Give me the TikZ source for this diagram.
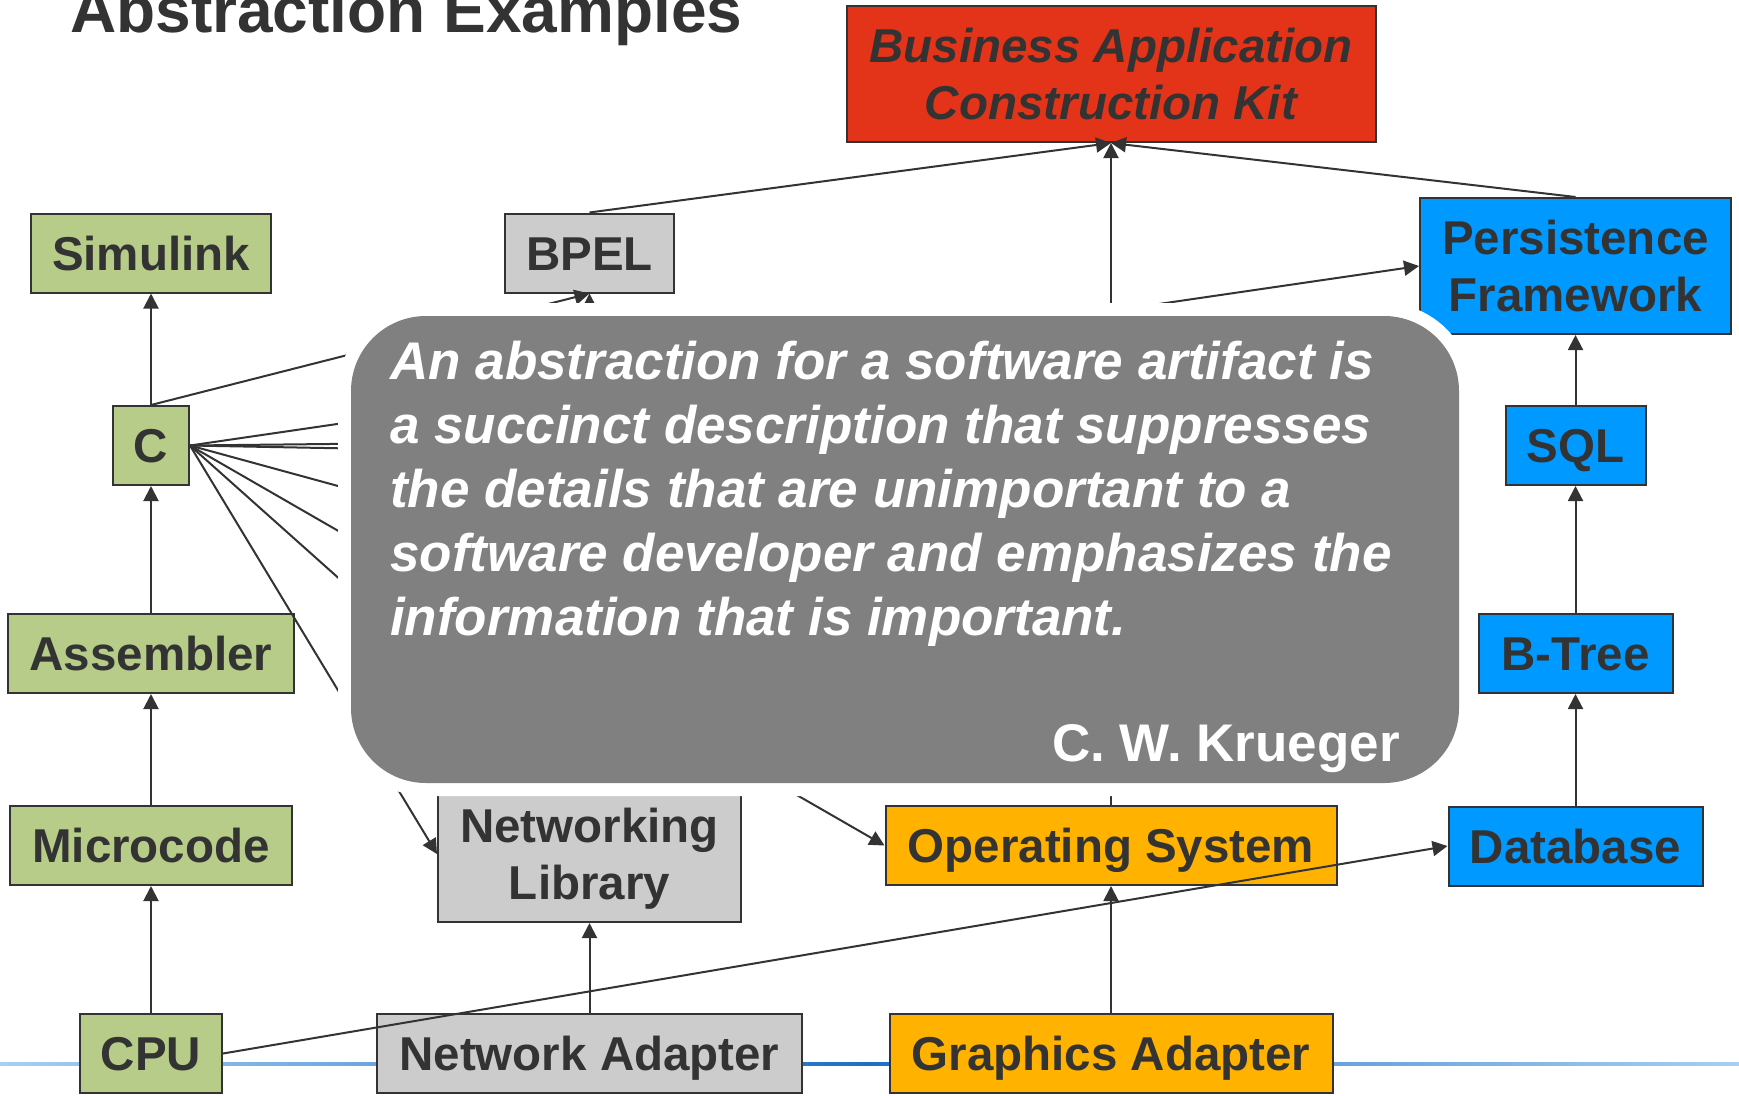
\documentclass[tikz,border=0pt]{standalone}
\usepackage{fontspec}
\setmainfont{Liberation Sans}
\usetikzlibrary{arrows.meta}
\definecolor{ink}{HTML}{333333}
\definecolor{hwgreen}{HTML}{B6CC88}
\definecolor{swgrey}{HTML}{CCCCCC}
\definecolor{kitred}{HTML}{E33419}
\definecolor{dbblue}{HTML}{0099FF}
\definecolor{osorange}{HTML}{FFB300}
\definecolor{quotegrey}{HTML}{808080}
\definecolor{raildark}{HTML}{1F6FC4}
\definecolor{raillight}{HTML}{A6CFF2}

\begin{document}
\begin{tikzpicture}[x=1pt,y=-1pt,
  box/.style={draw=ink, line width=2pt, text=ink, inner sep=0pt,
    font=\fontsize{47.5}{56.6}\selectfont\bfseries, minimum height=79pt},
  oneline/.style={text height=34pt, text depth=0pt},
  twoline/.style={align=center, minimum height=136pt},
  hw/.style={box, fill=hwgreen},
  sw/.style={box, fill=swgrey},
  db/.style={box, fill=dbblue},
  osbox/.style={box, fill=osorange},
  link/.style={draw=ink, line width=2pt, -{Triangle[length=15pt,width=15pt]}},
  plain/.style={draw=ink, line width=2pt}
]
\useasboundingbox (0,0) rectangle (1739,1095);

% title
\node[anchor=base west, inner sep=0pt, text=ink,
  font=\fontsize{64}{70}\selectfont\bfseries] (title) at (70,32) {Abstraction Examples};

% blue rail behind the bottom row
\shade[left color=raillight, right color=raillight, middle color=raildark]
  (0,1062) rectangle (1739,1065);

% hardware column
\node[hw, oneline, minimum width=240pt] (simulink) at (151,253) {Simulink};
\node[hw, oneline, minimum width=76pt]  (c)        at (151,445.5) {C};
\node[hw, oneline, minimum width=286pt] (asm)      at (151,653.5) {Assembler};
\node[hw, oneline, minimum width=282pt] (micro)    at (151,845.5) {Microcode};
\node[hw, oneline, minimum width=142pt] (cpu)      at (151,1053.5) {CPU};

% software nodes
\node[sw, oneline, minimum width=169pt] (bpel)   at (589.5,253) {BPEL};
\node[sw, twoline, minimum width=303pt] (netlib) at (589.5,854) {Networking\\\smash{Library}};
\node[sw, oneline, minimum width=425pt] (netad)  at (589.5,1053.5) {Network Adapter};

% top application kit
\node[box, twoline, fill=kitred, minimum width=529pt,
  font=\fontsize{47.5}{56.6}\selectfont\bfseries\itshape] (kit) at (1111,74)
  {Business Application\\Construction Kit};

% operating system column
\node[osbox, oneline, minimum width=451pt] (os)  at (1111,845.5) {Operating System};
\node[osbox, oneline, minimum width=443pt] (gfx) at (1111,1053.5) {Graphics Adapter};

% persistence column
\node[db, twoline, minimum width=311pt] (persist)  at (1575.5,266) {Persistence\\Framework};
\node[db, oneline, minimum width=140pt] (sql)      at (1575.5,445.5) {SQL};
\node[db, oneline, minimum width=194pt] (btree)    at (1575.5,653.5) {B-Tree};
\node[db, oneline, minimum width=254pt] (database) at (1575.5,846) {Database};

% ends of links that run under the quotation panel
\coordinate (ha) at (700,440);
\coordinate (hb) at (700,455);
\coordinate (hc) at (700,585);
\coordinate (hd) at (520,740);
\coordinate (he) at (589.5,520);

% links
\draw[link] (cpu.north) -- (micro.south);
\draw[link] (micro.north) -- (asm.south);
\draw[link] (asm.north) -- (c.south);
\draw[link] (c.north) -- (simulink.south);
\draw[link] (c.north) -- (bpel.south);
\draw[link] (c.east) -- (persist.west);
\draw[plain] (c.east) -- (ha);
\draw[plain] (c.east) -- (hb);
\draw[plain] (c.east) -- (hc);
\draw[plain] (c.east) -- (hd);
\draw[link] (c.east) -- (os.west);
\draw[link] (c.east) -- (netlib.west);
\draw[link] (he) -- (bpel.south);
\draw[link] (bpel.north) -- (kit.south);
\draw[link] (persist.north) -- (kit.south);
\draw[link] (os.north) -- (kit.south);
\draw[link] (sql.north) -- (persist.south);
\draw[link] (btree.north) -- (sql.south);
\draw[link] (database.north) -- (btree.south);
\draw[link] (netad.north) -- (netlib.south);
\draw[link] (gfx.north) -- (os.south);
\draw[link] (cpu.east) -- (database.west);

% quotation panel with its white margin
\path[fill=white, rounded corners=88pt] (338,303) rectangle (1472,796);
\path[fill=quotegrey, rounded corners=75pt] (351,316) rectangle (1459,783);
\node[anchor=north west, inner sep=0pt, text=white, align=left,
  font=\fontsize{53}{64}\selectfont\bfseries\itshape] (quote) at (390,341)
  {An abstraction for a software artifact is\\
   a succinct description that suppresses\\
   the details that are unimportant to a\\
   software developer and emphasizes the\\
   information that is important.};
\node[anchor=base east, inner sep=0pt, text=white,
  font=\fontsize{53}{64}\selectfont\bfseries] (author) at (1400,761) {C. W. Krueger};
\end{tikzpicture}
\end{document}
